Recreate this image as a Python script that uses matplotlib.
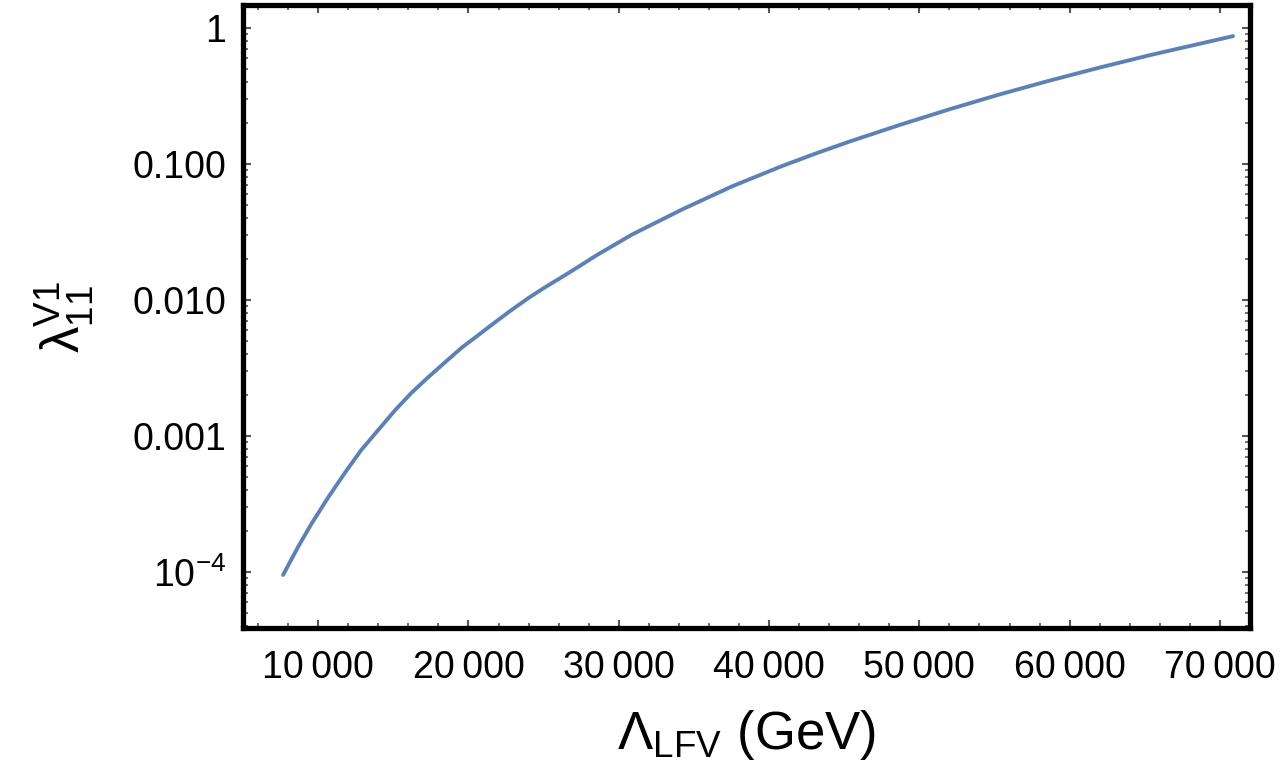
import numpy as np
import matplotlib
matplotlib.use("Agg")
import matplotlib.pyplot as plt
from matplotlib.ticker import FixedLocator, FixedFormatter, LogLocator, NullFormatter

# coupling bound vs. LFV scale
lam_lfv = [7667, 8667, 9533, 10667, 11800, 12867, 14000, 15133, 16200, 17333,
           18467, 19533, 20667, 21800, 22867, 24000, 25133, 26200, 27333, 28467,
           30867, 34200, 37533, 40870, 43133, 45333, 48670, 52000, 55330, 58667,
           62000, 65333, 70870]
lam_11 = [9.5e-5, 1.53e-4, 2.24e-4, 3.53e-4, 5.40e-4, 7.88e-4, 1.107e-3, 1.552e-3,
          2.07e-3, 2.71e-3, 3.50e-3, 4.44e-3, 5.53e-3, 6.89e-3, 8.44e-3, 0.01035,
          0.01247, 0.01469, 0.01758, 0.02113, 0.0302, 0.0462, 0.0684, 0.0966,
          0.1197, 0.1459, 0.1932, 0.2523, 0.3243, 0.4102, 0.5117, 0.631, 0.871]

x_ticks = [10000, 20000, 30000, 40000, 50000, 60000, 70000]
x_ticklabels = ["10\u2009000", "20\u2009000", "30\u2009000", "40\u2009000",
                "50\u2009000", "60\u2009000", "70\u2009000"]
y_ticks = [1e-4, 1e-3, 1e-2, 0.1, 1]
y_ticklabels = [r"$10^{-4}$", "0.001", "0.010", "0.100", "1"]

plt.rcParams["font.family"] = ["Liberation Sans", "DejaVu Sans"]
plt.rcParams["mathtext.fontset"] = "custom"
plt.rcParams["mathtext.rm"] = "Liberation Sans"
plt.rcParams["mathtext.it"] = "Liberation Sans"
plt.rcParams["mathtext.bf"] = "Liberation Sans:bold"
plt.rcParams["mathtext.default"] = "rm"

fig = plt.figure(figsize=(12.81, 7.78), dpi=100)
ax = fig.add_axes([0.1897, 0.1928, 0.9758 - 0.1897, 0.9936 - 0.1928])

ax.plot(lam_lfv, lam_11, color="#5E81B5", lw=2.8, solid_capstyle="round",
        solid_joinstyle="round")

ax.set_yscale("log")
ax.set_xlim(5000, 72000)
ax.set_ylim(3.87e-5, 1.476)

ax.xaxis.set_major_locator(FixedLocator(x_ticks))
ax.xaxis.set_major_formatter(FixedFormatter(x_ticklabels))
ax.xaxis.set_minor_locator(FixedLocator(np.arange(6000, 72001, 2000)))
ax.yaxis.set_major_locator(FixedLocator(y_ticks))
ax.yaxis.set_major_formatter(FixedFormatter(y_ticklabels))
ax.yaxis.set_minor_locator(LogLocator(base=10, subs=np.arange(2, 10), numticks=20))
ax.yaxis.set_minor_formatter(NullFormatter())

ax.tick_params(which="both", direction="in", top=True, right=True, color="#555555")
ax.tick_params(which="major", length=6, width=1.5, labelsize=27, pad=12)
ax.tick_params(which="minor", length=3.5, width=1.2)
ax.tick_params(axis="x", which="major", pad=16)

for s in ax.spines.values():
    s.set_linewidth(3.8)
    s.set_color("black")

ax.set_xlabel(r"$\Lambda_{\mathrm{LFV}}$ (GeV)", fontsize=38, labelpad=16)
ax.set_ylabel(r"$\lambda_{11}^{V1}$", fontsize=38, labelpad=26)

fig.savefig("out.png", dpi=100)
